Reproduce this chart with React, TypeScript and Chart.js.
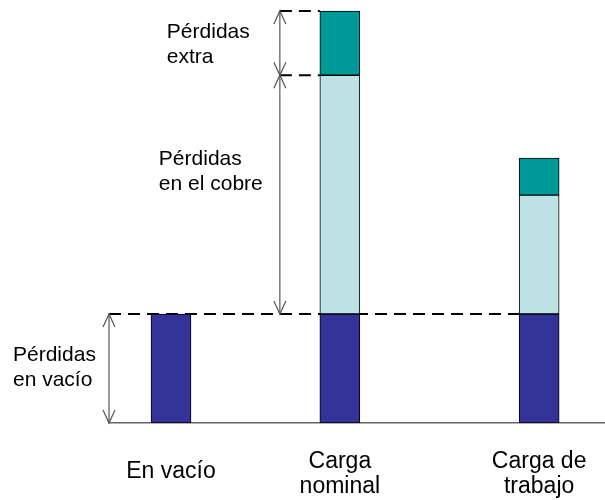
import { useEffect, useRef } from 'react';
import { Chart, registerables } from 'chart.js';

Chart.register(...registerables);

// ---- data ----
const categories: string[][] = [['En vacío'], ['Carga', 'nominal'], ['Carga de', 'trabajo']];
const categoryPositions = [1, 2, 3.18];
const perdidasVacio = [1.0, 1.0, 1.0];
const perdidasCobre = [0, 2.19, 1.09];
const perdidasExtra = [0, 0.59, 0.34];
const labelVacio = ['Pérdidas', 'en vacío'];
const labelCobre = ['Pérdidas', 'en el cobre'];
const labelExtra = ['Pérdidas', 'extra'];

const FONT = '"Liberation Sans", Arial, Helvetica, sans-serif';
const BAR = 40;

function line(ctx: CanvasRenderingContext2D, x1: number, y1: number, x2: number, y2: number) {
  ctx.beginPath();
  ctx.moveTo(x1, y1);
  ctx.lineTo(x2, y2);
  ctx.stroke();
}

function doubleArrow(ctx: CanvasRenderingContext2D, x: number, yTop: number, yBot: number) {
  ctx.save();
  ctx.strokeStyle = '#555555';
  ctx.lineWidth = 1.2;
  ctx.setLineDash([]);
  line(ctx, x, yTop, x, yBot);
  ctx.beginPath();
  ctx.moveTo(x - 6, yTop + 13);
  ctx.lineTo(x, yTop);
  ctx.lineTo(x + 6, yTop + 13);
  ctx.stroke();
  ctx.beginPath();
  ctx.moveTo(x - 6, yBot - 13);
  ctx.lineTo(x, yBot);
  ctx.lineTo(x + 6, yBot - 13);
  ctx.stroke();
  ctx.restore();
}

function textLines(ctx: CanvasRenderingContext2D, lines: string[], x: number, firstBaseline: number, lh: number) {
  lines.forEach((t, i) => ctx.fillText(t, x, firstBaseline + i * lh));
}

const annotationPlugin = {
  id: 'perdidasAnnotations',
  beforeDatasetsDraw(chart: any) {
    const { ctx, scales } = chart;
    const xs = scales.x;
    const ys = scales.y;
    const yVac = ys.getPixelForValue(perdidasVacio[0]);
    const bx2 = xs.getPixelForValue(categoryPositions[1]) - BAR / 2;
    const bx3 = xs.getPixelForValue(categoryPositions[2]) - BAR / 2;
    const ax = bx2 - 40;
    const yCob = ys.getPixelForValue(perdidasVacio[1] + perdidasCobre[1]);
    const yExt = ys.getPixelForValue(perdidasVacio[1] + perdidasCobre[1] + perdidasExtra[1]);
    ctx.save();
    ctx.setLineDash([12, 7]);
    ctx.lineWidth = 2;
    ctx.strokeStyle = '#000000';
    line(ctx, xs.left, yVac, bx3, yVac);
    line(ctx, ax, yCob, bx2, yCob);
    line(ctx, ax, yExt, bx2, yExt);
    ctx.restore();
  },
  afterDatasetsDraw(chart: any) {
    const { ctx, scales } = chart;
    const xs = scales.x;
    const ys = scales.y;
    const bottom = chart.chartArea.bottom;
    const yVac = ys.getPixelForValue(perdidasVacio[0]);
    const bx2 = xs.getPixelForValue(categoryPositions[1]) - BAR / 2;
    const ax = bx2 - 40;
    const yCob = ys.getPixelForValue(perdidasVacio[1] + perdidasCobre[1]);
    const yExt = ys.getPixelForValue(perdidasVacio[1] + perdidasCobre[1] + perdidasExtra[1]);

    doubleArrow(ctx, xs.left, yVac, bottom);
    doubleArrow(ctx, ax, yCob, yVac);
    doubleArrow(ctx, ax, yExt, yCob);

    ctx.save();
    ctx.fillStyle = '#000000';
    ctx.textAlign = 'left';
    ctx.textBaseline = 'alphabetic';
    ctx.font = `21px ${FONT}`;
    const midExt = (yExt + yCob) / 2;
    textLines(ctx, labelExtra, ax - 113, midExt - 5, 25);
    const midCob = (yCob + yVac) / 2;
    textLines(ctx, labelCobre, ax - 121, midCob - 29.5, 25);
    const midVac = (yVac + bottom) / 2;
    textLines(ctx, labelVacio, xs.left - 96, midVac - 7.5, 25);

    ctx.font = `23px ${FONT}`;
    ctx.textAlign = 'center';
    categories.forEach((lines, i) => {
      const cx = xs.getPixelForValue(categoryPositions[i]);
      const first = bottom + 55 - (lines.length - 1) * 10;
      textLines(ctx, lines, cx, first, 25);
    });
    ctx.restore();
  },
};

export default function App() {
  const canvasRef = useRef<HTMLCanvasElement | null>(null);

  useEffect(() => {
    if (!canvasRef.current) return;
    const mk = (vals: number[]) => categoryPositions.map((x, i) => ({ x, y: vals[i] }));
    const chart = new Chart(canvasRef.current, {
      type: 'bar',
      data: {
        datasets: [
          {
            label: 'Pérdidas en vacío',
            data: mk(perdidasVacio),
            backgroundColor: '#333399',
            borderColor: '#000000',
            borderWidth: 1,
            borderSkipped: false,
            barThickness: BAR,
          },
          {
            label: 'Pérdidas en el cobre',
            data: mk(perdidasCobre),
            backgroundColor: '#BDE1E4',
            borderColor: '#000000',
            borderWidth: 1,
            borderSkipped: false,
            barThickness: BAR,
          },
          {
            label: 'Pérdidas extra',
            data: mk(perdidasExtra),
            backgroundColor: '#009999',
            borderColor: '#000000',
            borderWidth: 1,
            borderSkipped: false,
            barThickness: BAR,
          },
        ],
      } as any,
      options: {
        responsive: false,
        animation: false,
        events: [],
        layout: { padding: { left: 109, right: 0, top: 8.8, bottom: 77 } },
        plugins: { legend: { display: false }, tooltip: { enabled: false } },
        scales: {
          x: {
            type: 'linear',
            stacked: true,
            min: 0.633,
            max: 3.57,
            offset: false,
            grid: { display: false, drawTicks: false },
            ticks: { display: false },
            border: { display: true, color: '#666666', width: 1.5 },
          },
          y: {
            stacked: true,
            display: false,
            min: 0,
            max: 3.8,
          },
        },
      } as any,
      plugins: [annotationPlugin],
    });
    return () => chart.destroy();
  }, []);

  return (
    <div style={{ position: 'absolute', left: 0, top: 0, width: 605, height: 500, background: '#ffffff' }}>
      <canvas ref={canvasRef} width={605} height={500} />
    </div>
  );
}
